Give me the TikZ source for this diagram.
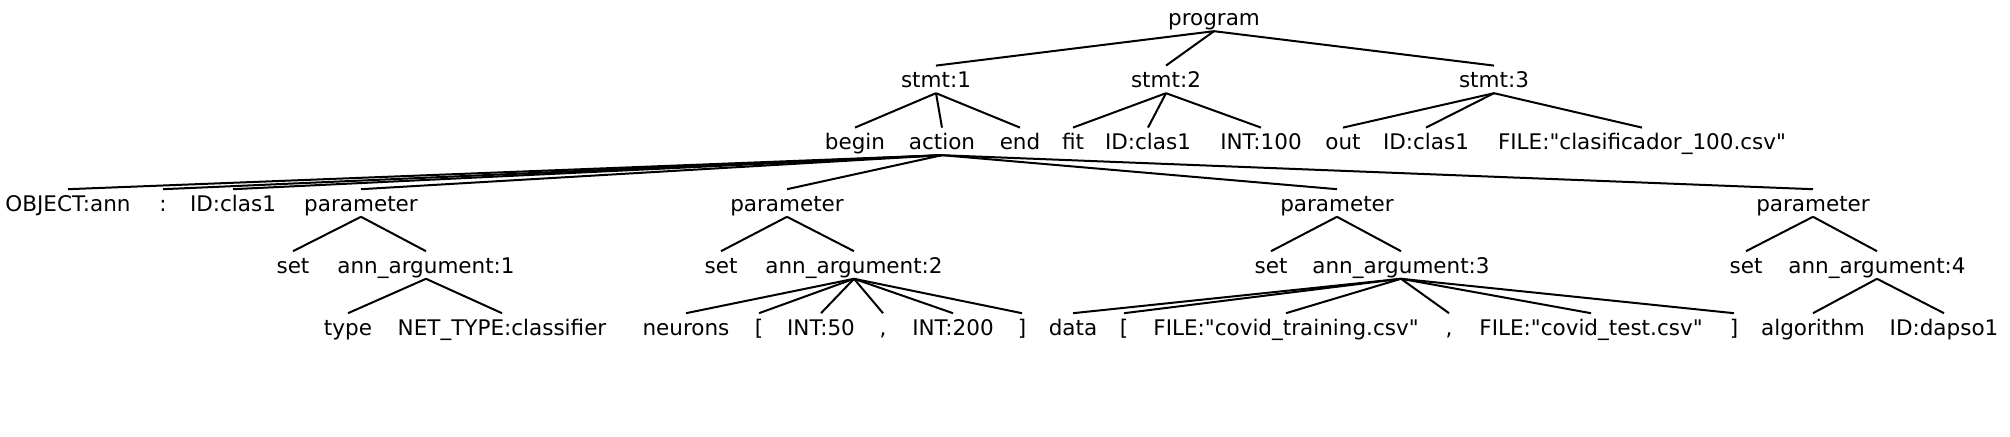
\documentclass[tikz,border=0pt]{standalone}
\usepackage{fontspec}
\setmainfont{DejaVu Sans}
\usepackage{tikz}

\begin{document}
\begin{tikzpicture}[every node/.style={inner sep=0pt, anchor=base, text height=1.1em, text depth=0.24em, font=\fontsize{10.75}{12}\selectfont}]
\useasboundingbox (0pt, 0pt) rectangle (1005pt, -218.5pt);
\node (1) at (607pt, -13pt) {program};
\node (2) at (468pt, -44pt) {stmt:1};
\node (3) at (583pt, -44pt) {stmt:2};
\node (4) at (747pt, -44pt) {stmt:3};
\node (5) at (427.5pt, -75pt) {begin};
\node (6) at (471pt, -75pt) {action};
\node (7) at (510pt, -75pt) {end};
\node (8) at (536.5pt, -75pt) {fit};
\node (9) at (574pt, -75pt) {ID:clas1};
\node (10) at (630.5pt, -75pt) {INT:100};
\node (11) at (671.5pt, -75pt) {out};
\node (12) at (713pt, -75pt) {ID:clas1};
\node (13) at (821pt, -75pt) {FILE:\textquotedbl clasificador\_100.csv\textquotedbl};
\node (14) at (34pt, -105.8pt) {OBJECT:ann};
\node (15) at (81.5pt, -105.8pt) {:};
\node (16) at (116.5pt, -105.8pt) {ID:clas1};
\node (17) at (180.5pt, -105.8pt) {parameter};
\node (18) at (393.5pt, -105.8pt) {parameter};
\node (19) at (668.5pt, -105.8pt) {parameter};
\node (20) at (906.5pt, -105.8pt) {parameter};
\node (21) at (146.5pt, -136.8pt) {set};
\node (22) at (213pt, -136.8pt) {ann\_argument:1};
\node (23) at (360.5pt, -136.8pt) {set};
\node (24) at (427pt, -136.8pt) {ann\_argument:2};
\node (25) at (635.5pt, -136.8pt) {set};
\node (26) at (700.5pt, -136.8pt) {ann\_argument:3};
\node (27) at (873pt, -136.8pt) {set};
\node (28) at (938.5pt, -136.8pt) {ann\_argument:4};
\node (29) at (174pt, -167.8pt) {type};
\node (30) at (251pt, -167.8pt) {NET\_TYPE:classifier};
\node (31) at (343pt, -167.8pt) {neurons};
\node (32) at (379.5pt, -167.8pt) {[};
\node (33) at (410.5pt, -167.8pt) {INT:50};
\node (34) at (441.5pt, -167.8pt) {,};
\node (35) at (476.5pt, -167.8pt) {INT:200};
\node (36) at (511pt, -167.8pt) {]};
\node (37) at (536.5pt, -167.8pt) {data};
\node (38) at (562pt, -167.8pt) {[};
\node (39) at (643pt, -167.8pt) {FILE:\textquotedbl covid\_training.csv\textquotedbl};
\node (40) at (724.5pt, -167.8pt) {,};
\node (41) at (795.5pt, -167.8pt) {FILE:\textquotedbl covid\_test.csv\textquotedbl};
\node (42) at (867pt, -167.8pt) {]};
\node (43) at (906.5pt, -167.8pt) {algorithm};
\node (44) at (972pt, -167.8pt) {ID:dapso1};
\draw [line width=1pt, color=black] (1.south) to (2.north);
\draw [line width=1pt, color=black] (1.south) to (3.north);
\draw [line width=1pt, color=black] (1.south) to (4.north);
\draw [line width=1pt, color=black] (2.south) to (5.north);
\draw [line width=1pt, color=black] (2.south) to (6.north);
\draw [line width=1pt, color=black] (2.south) to (7.north);
\draw [line width=1pt, color=black] (3.south) to (8.north);
\draw [line width=1pt, color=black] (3.south) to (9.north);
\draw [line width=1pt, color=black] (3.south) to (10.north);
\draw [line width=1pt, color=black] (4.south) to (11.north);
\draw [line width=1pt, color=black] (4.south) to (12.north);
\draw [line width=1pt, color=black] (4.south) to (13.north);
\draw [line width=1pt, color=black] (6.south) to (14.north);
\draw [line width=1pt, color=black] (6.south) to (15.north);
\draw [line width=1pt, color=black] (6.south) to (16.north);
\draw [line width=1pt, color=black] (6.south) to (17.north);
\draw [line width=1pt, color=black] (6.south) to (18.north);
\draw [line width=1pt, color=black] (6.south) to (19.north);
\draw [line width=1pt, color=black] (6.south) to (20.north);
\draw [line width=1pt, color=black] (17.south) to (21.north);
\draw [line width=1pt, color=black] (17.south) to (22.north);
\draw [line width=1pt, color=black] (18.south) to (23.north);
\draw [line width=1pt, color=black] (18.south) to (24.north);
\draw [line width=1pt, color=black] (19.south) to (25.north);
\draw [line width=1pt, color=black] (19.south) to (26.north);
\draw [line width=1pt, color=black] (20.south) to (27.north);
\draw [line width=1pt, color=black] (20.south) to (28.north);
\draw [line width=1pt, color=black] (22.south) to (29.north);
\draw [line width=1pt, color=black] (22.south) to (30.north);
\draw [line width=1pt, color=black] (24.south) to (31.north);
\draw [line width=1pt, color=black] (24.south) to (32.north);
\draw [line width=1pt, color=black] (24.south) to (33.north);
\draw [line width=1pt, color=black] (24.south) to (34.north);
\draw [line width=1pt, color=black] (24.south) to (35.north);
\draw [line width=1pt, color=black] (24.south) to (36.north);
\draw [line width=1pt, color=black] (26.south) to (37.north);
\draw [line width=1pt, color=black] (26.south) to (38.north);
\draw [line width=1pt, color=black] (26.south) to (39.north);
\draw [line width=1pt, color=black] (26.south) to (40.north);
\draw [line width=1pt, color=black] (26.south) to (41.north);
\draw [line width=1pt, color=black] (26.south) to (42.north);
\draw [line width=1pt, color=black] (28.south) to (43.north);
\draw [line width=1pt, color=black] (28.south) to (44.north);
\end{tikzpicture}
\end{document}
